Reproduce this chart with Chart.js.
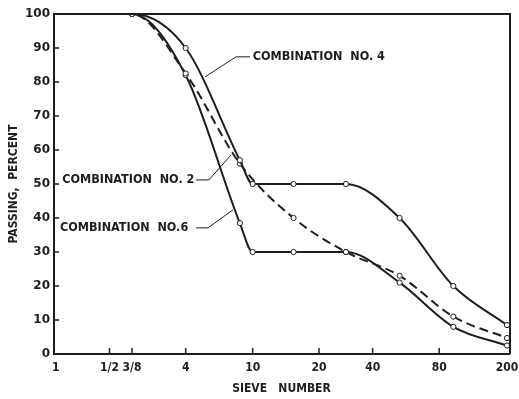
<!DOCTYPE html>
<html>
<head>
<meta charset="utf-8">
<script src="https://cdn.jsdelivr.net/npm/chart.js@4.4.0/dist/chart.umd.min.js"></script>
<style>
    html, body { margin: 0; padding: 0; background: #fff; }
    #wrap { width: 519px; height: 399px; }
</style>
</head>
<body>
<div id="wrap"><canvas id="gradation"></canvas></div>
<script>
// sieve openings in mm: 1/2", 3/8", #4, #8, #10, #16, #30, #50, #100, #200
const sieves = [12.7, 9.5, 4.75, 2.36, 2.0, 1.18, 0.6, 0.3, 0.15, 0.075];
const comb4 = [100, 100, 90, 57, 50, 50, 50, 40, 20, 8.5];
const comb2 = [100, 100, 82.5, 56, null, 40, 30, 23, 11, 4.7];
const comb6 = [100, 100, 82, 38.5, 30, 30, 30, 21, 8, 2.5];

const tickSizes = [25.4, 12.7, 9.5, 4.75, 2.0, 0.85, 0.425, 0.18, 0.075];
const tickLabels = ['1', '1/2', '3/8', '4', '10', '20', '40', '80', '200'];
const percentTicks = [0, 10, 20, 30, 40, 50, 60, 70, 80, 90, 100];

const INK = '#1e1e1e';

// label text + leader line, in (sieve mm, percent)
const notes = [
    { text: 'COMBINATION  NO. 4', at: [2.0, 87.4], leader: [[2.07, 87.4], [2.48, 87.4], [3.7, 81.5]] },
    { text: 'COMBINATION  NO. 2', at: [23.4, 51.2], leader: [[4.16, 51.2], [3.52, 51.2], [2.65, 58.5]] },
    { text: 'COMBINATION  NO.6', at: [24.1, 37.1], leader: [[4.16, 37.1], [3.56, 37.1], [2.58, 42.4]] }
];

function toPoints(values) {
    return sieves.map((s, i) => ({ x: s, y: values[i] })).filter(p => p.y !== null);
}

function series(values, dashed) {
    return {
        data: toPoints(values),
        borderColor: INK,
        borderWidth: 2,
        borderDash: dashed ? [9, 5] : [],
        cubicInterpolationMode: 'monotone',
        pointRadius: ctx => (ctx.raw && ctx.raw.x === 12.7 ? 0 : 2.6),
        pointBackgroundColor: '#fff',
        pointBorderColor: INK,
        pointBorderWidth: 1,
        fill: false
    };
}

const frameAndNotes = {
    id: 'frameAndNotes',
    afterDatasetsDraw(chart) {
        const { ctx, chartArea: a, scales: { x, y } } = chart;
        ctx.save();
        ctx.strokeStyle = INK;
        ctx.lineWidth = 2;
        ctx.beginPath();
        ctx.moveTo(a.left, a.top);
        ctx.lineTo(a.right + 1, a.top);
        ctx.lineTo(a.right + 1, a.bottom);
        ctx.stroke();

        // small ticks pointing into the plot
        ctx.lineWidth = 1.5;
        ctx.beginPath();
        percentTicks.slice(1, -1).forEach(v => {
            const py = y.getPixelForValue(v);
            ctx.moveTo(a.left, py);
            ctx.lineTo(a.left + 5, py);
        });
        tickSizes.slice(1, -1).forEach(s => {
            const px = x.getPixelForValue(s);
            ctx.moveTo(px, a.bottom);
            ctx.lineTo(px, a.bottom - 6);
        });
        ctx.stroke();

        // curve labels
        ctx.lineWidth = 1;
        ctx.fillStyle = INK;
        ctx.font = "bold 12.5px 'DejaVu Sans Condensed', 'DejaVu Sans'";
        ctx.textBaseline = 'middle';
        ctx.textAlign = 'left';
        notes.forEach(n => {
            ctx.fillText(n.text, x.getPixelForValue(n.at[0]), y.getPixelForValue(n.at[1]));
            ctx.beginPath();
            n.leader.forEach((p, i) => {
                const px = x.getPixelForValue(p[0]);
                const py = y.getPixelForValue(p[1]);
                if (i === 0) ctx.moveTo(px, py); else ctx.lineTo(px, py);
            });
            ctx.stroke();
        });
        ctx.restore();
    }
};

const ctx = document.getElementById('gradation').getContext('2d');
const chart = new Chart(ctx, {
    type: 'line',
    data: {
        datasets: [series(comb4, false), series(comb2, true), series(comb6, false)]
    },
    options: {
        responsive: true,
        maintainAspectRatio: false,
        animation: false,
        layout: { padding: { top: 14, right: 10, left: 0, bottom: 0 } },
        plugins: {
            legend: { display: false },
            tooltip: { enabled: false }
        },
        scales: {
            x: {
                type: 'logarithmic',
                reverse: true,
                min: 0.0731,
                max: 26,
                afterBuildTicks: scale => {
                    scale.ticks = tickSizes.map(v => ({ value: v }));
                },
                afterFit: scale => {
                    scale.height = 45;
                    scale.paddingLeft = 0;
                    scale.paddingRight = 0;
                },
                grid: { display: false, drawTicks: false },
                border: { display: true, color: INK, width: 2 },
                ticks: {
                    autoSkip: false,
                    maxRotation: 0,
                    padding: 7,
                    color: INK,
                    font: { family: "'DejaVu Sans Condensed', 'DejaVu Sans'", weight: 'bold', size: 12 },
                    callback: (v, i) => tickLabels[i]
                },
                title: {
                    display: true,
                    text: 'SIEVE   NUMBER',
                    color: INK,
                    padding: { top: 0, bottom: 3 },
                    font: { family: "'DejaVu Sans Condensed', 'DejaVu Sans'", weight: 'bold', size: 12 }
                }
            },
            y: {
                min: 0,
                max: 100,
                afterBuildTicks: scale => {
                    scale.ticks = percentTicks.map(v => ({ value: v }));
                },
                afterFit: scale => {
                    scale.width = 54;
                    scale.paddingTop = 0;
                    scale.paddingBottom = 0;
                },
                grid: { display: false, drawTicks: false },
                border: { display: true, color: INK, width: 2 },
                ticks: {
                    padding: 4,
                    color: INK,
                    font: { family: 'DejaVu Sans', weight: 'bold', size: 12 }
                },
                title: {
                    display: true,
                    text: 'PASSING,  PERCENT',
                    color: INK,
                    padding: { top: 7, bottom: 0 },
                    font: { family: "'DejaVu Sans Condensed', 'DejaVu Sans'", weight: 'bold', size: 12 }
                }
            }
        }
    },
    plugins: [frameAndNotes]
});
</script>
</body>
</html>
